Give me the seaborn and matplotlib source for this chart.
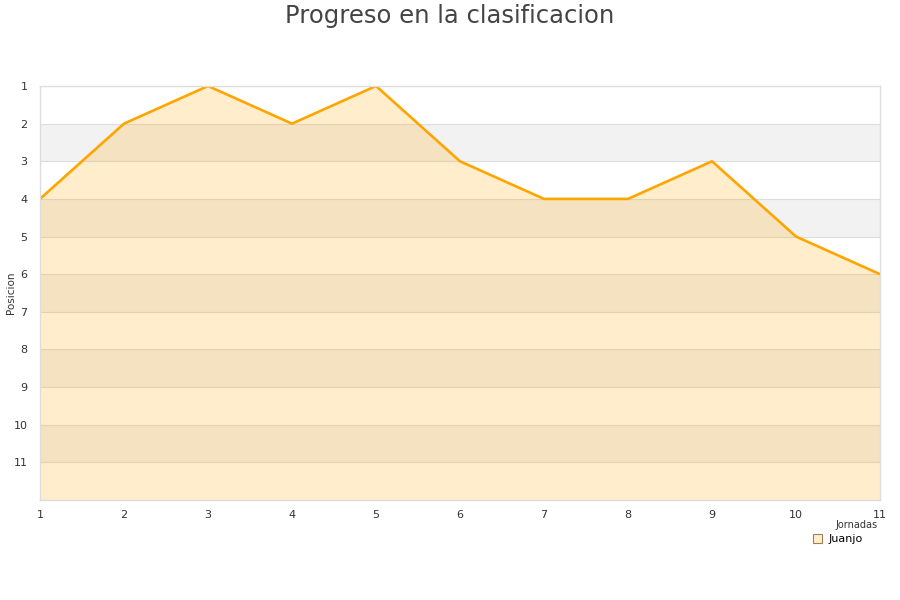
import matplotlib
matplotlib.use("Agg")
import matplotlib.pyplot as plt
import seaborn as sns
import pandas as pd
from matplotlib.patches import Patch

jornadas = [1, 2, 3, 4, 5, 6, 7, 8, 9, 10, 11]
posicion = [4, 2, 1, 2, 1, 3, 4, 4, 3, 5, 6]
serie = "Juanjo"
titulo = "Progreso en la clasificacion"
y_ticks = [1, 2, 3, 4, 5, 6, 7, 8, 9, 10, 11]

df = pd.DataFrame({"Jornada": jornadas, "Posicion": posicion})

sns.set_theme(style="white")
plt.rcParams['font.family'] = ['DejaVu Sans']

fig = plt.figure(figsize=(9, 6), dpi=100)
ax = fig.add_axes([40/900, 100/600, 840/900, 414/600])

# alternating bands
for k in range(1, 12):
    if k % 2 == 0:
        ax.axhspan(k, k + 1, color="#f2f2f2", zorder=0, lw=0)
for k in range(2, 12):
    ax.axhline(k, color="#dddddd", lw=0.8, zorder=0.5)

ax.fill_between(df["Jornada"], df["Posicion"], 12, color="#ffa500", alpha=0.2, lw=0, zorder=1)
sns.lineplot(data=df, x="Jornada", y="Posicion", ax=ax, color="#ffa500", lw=1.9, zorder=2)

ax.set_xlim(1, 11)
ax.set_ylim(12, 1)
ax.set_xticks(jornadas)
ax.set_yticks(y_ticks)
ax.tick_params(axis="y", labelsize=8, colors="#333333", length=0, pad=9)
ax.tick_params(axis="x", labelsize=8, colors="#333333", length=0, pad=7)
ax.set_xlabel("")
ax.set_ylabel("")
fig.text(11/900, 1 - 293/600, "Posicion", rotation=90, ha="center", va="center",
         fontsize=7.5, color="#333333")
for s in ax.spines.values():
    s.set_color("#dddddd")
    s.set_linewidth(1)

fig.text(0.5, 0.993, titulo, ha="center", va="top", fontsize=17.5, color="#444444")
fig.text(878/900, 1 - 525/600, "Jornadas", ha="right", va="center", fontsize=7, color="#333333")

handle = Patch(facecolor="#ffedcc", edgecolor="#a08050", lw=0.8)
leg = fig.legend([handle], [serie], loc="upper left", bbox_to_anchor=(810/900, 1 - 531/600),
                 frameon=True, fontsize=8, handlelength=0.8, handleheight=0.8,
                 handletextpad=0.6, borderpad=0.3, borderaxespad=0)
leg.get_frame().set_facecolor("white")
leg.get_frame().set_edgecolor("white")
leg.get_frame().set_alpha(1)
for t in leg.get_texts():
    t.set_color("#000000")

fig.savefig("out.png", dpi=100)
